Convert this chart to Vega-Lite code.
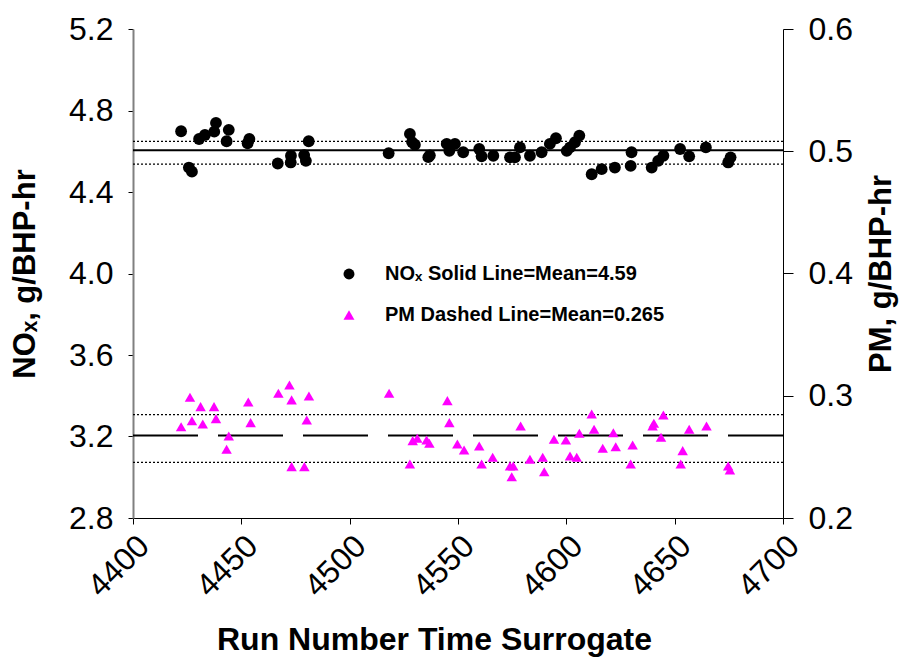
{
  "$schema": "https://vega.github.io/schema/vega-lite/v6.json",
  "width": 650,
  "height": 489,
  "autosize": {"type": "none"},
  "padding": {"left": 133, "top": 29, "right": 122, "bottom": 140},
  "background": "white",
  "config": {
    "view": {"stroke": null},
    "font": "Liberation Sans",
    "axis": {
      "grid": false,
      "labelFont": "Liberation Sans",
      "labelFontSize": 32,
      "labelColor": "black",
      "titleFont": "Liberation Sans",
      "titleFontWeight": "bold",
      "titleFontSize": 31,
      "titleColor": "black",
      "tickColor": "black",
      "domainColor": "black",
      "tickSize": 6,
      "labelPadding": 13
    },
    "legend": {"labelLimit": 0}
  },
  "datasets": {
    "nox": [
      {"run": 4422.2, "v": 4.698}, {"run": 4425.8, "v": 4.52}, {"run": 4427.2, "v": 4.50},
      {"run": 4430.5, "v": 4.66}, {"run": 4433.2, "v": 4.68}, {"run": 4438.3, "v": 4.739},
      {"run": 4437.5, "v": 4.696}, {"run": 4444.2, "v": 4.705}, {"run": 4443.2, "v": 4.649},
      {"run": 4453.7, "v": 4.66}, {"run": 4452.9, "v": 4.639}, {"run": 4466.8, "v": 4.54},
      {"run": 4472.9, "v": 4.578}, {"run": 4472.8, "v": 4.545}, {"run": 4479.8, "v": 4.553},
      {"run": 4479.0, "v": 4.581}, {"run": 4481.1, "v": 4.649}, {"run": 4518.0, "v": 4.59},
      {"run": 4527.8, "v": 4.685}, {"run": 4528.8, "v": 4.645}, {"run": 4530.1, "v": 4.632},
      {"run": 4536.3, "v": 4.571}, {"run": 4537.0, "v": 4.58}, {"run": 4544.8, "v": 4.636},
      {"run": 4546.0, "v": 4.602}, {"run": 4548.6, "v": 4.636}, {"run": 4552.4, "v": 4.595},
      {"run": 4559.8, "v": 4.611}, {"run": 4560.9, "v": 4.575}, {"run": 4566.3, "v": 4.578},
      {"run": 4574.0, "v": 4.57}, {"run": 4576.3, "v": 4.57}, {"run": 4578.6, "v": 4.619},
      {"run": 4583.2, "v": 4.578}, {"run": 4588.6, "v": 4.595}, {"run": 4592.4, "v": 4.636},
      {"run": 4595.2, "v": 4.664}, {"run": 4600.2, "v": 4.602}, {"run": 4601.7, "v": 4.619},
      {"run": 4604.0, "v": 4.644}, {"run": 4606.0, "v": 4.677}, {"run": 4611.7, "v": 4.487},
      {"run": 4616.3, "v": 4.512}, {"run": 4622.4, "v": 4.52}, {"run": 4630.1, "v": 4.595},
      {"run": 4629.7, "v": 4.528}, {"run": 4639.4, "v": 4.52}, {"run": 4642.4, "v": 4.553},
      {"run": 4644.8, "v": 4.578}, {"run": 4652.5, "v": 4.611}, {"run": 4656.7, "v": 4.575},
      {"run": 4664.4, "v": 4.619}, {"run": 4674.7, "v": 4.545}, {"run": 4675.8, "v": 4.57}
    ],
    "pm": [
      {"run": 4422.2, "v": 0.2747}, {"run": 4426.3, "v": 0.2988}, {"run": 4427.2, "v": 0.2796},
      {"run": 4431.2, "v": 0.2911}, {"run": 4432.2, "v": 0.2769}, {"run": 4437.4, "v": 0.2911},
      {"run": 4438.3, "v": 0.2813}, {"run": 4444.2, "v": 0.2671}, {"run": 4443.2, "v": 0.2562},
      {"run": 4453.2, "v": 0.2949}, {"run": 4454.3, "v": 0.278}, {"run": 4467.1, "v": 0.302},
      {"run": 4472.2, "v": 0.3088}, {"run": 4473.2, "v": 0.2966}, {"run": 4473.2, "v": 0.242},
      {"run": 4479.1, "v": 0.242}, {"run": 4481.2, "v": 0.2998}, {"run": 4480.2, "v": 0.2802},
      {"run": 4518.2, "v": 0.302}, {"run": 4527.8, "v": 0.2442}, {"run": 4529.1, "v": 0.2633},
      {"run": 4531.2, "v": 0.2652}, {"run": 4535.5, "v": 0.2638}, {"run": 4536.8, "v": 0.2611},
      {"run": 4545.1, "v": 0.296}, {"run": 4546.0, "v": 0.278}, {"run": 4549.7, "v": 0.2606},
      {"run": 4552.8, "v": 0.2556}, {"run": 4559.8, "v": 0.2589}, {"run": 4560.9, "v": 0.2442},
      {"run": 4566.0, "v": 0.2497}, {"run": 4578.9, "v": 0.2753}, {"run": 4574.0, "v": 0.2426},
      {"run": 4575.5, "v": 0.2426}, {"run": 4574.8, "v": 0.2338}, {"run": 4583.2, "v": 0.248},
      {"run": 4589.1, "v": 0.2497}, {"run": 4589.8, "v": 0.2379}, {"run": 4594.3, "v": 0.2644},
      {"run": 4599.8, "v": 0.2638}, {"run": 4601.7, "v": 0.2507}, {"run": 4604.8, "v": 0.2497},
      {"run": 4606.0, "v": 0.2693}, {"run": 4611.7, "v": 0.2851}, {"run": 4612.8, "v": 0.2726},
      {"run": 4616.8, "v": 0.257}, {"run": 4621.7, "v": 0.2698}, {"run": 4622.8, "v": 0.2583},
      {"run": 4630.6, "v": 0.2597}, {"run": 4629.7, "v": 0.2442}, {"run": 4639.8, "v": 0.2753},
      {"run": 4640.4, "v": 0.2775}, {"run": 4644.8, "v": 0.2843}, {"run": 4643.7, "v": 0.266},
      {"run": 4653.7, "v": 0.2551}, {"run": 4652.8, "v": 0.2442}, {"run": 4656.7, "v": 0.2726},
      {"run": 4664.7, "v": 0.2753}, {"run": 4674.7, "v": 0.2426}, {"run": 4675.5, "v": 0.2393}
    ],
    "noxMean": [{"v": 4.605}],
    "noxBand": [{"v": 4.648}, {"v": 4.537}],
    "pmMean": [{"v": 0.2675}],
    "pmBand": [{"v": 0.2845}, {"v": 0.2455}]
  },
  "layer": [
    {
      "encoding": {
        "y": {
          "field": "v", "type": "quantitative",
          "scale": {"domain": [2.8, 5.2], "nice": false, "zero": false},
          "axis": {"orient": "left", "values": [2.8, 3.2, 3.6, 4.0, 4.4, 4.8, 5.2], "format": ".1f", "title": "NOₓ, g/BHP-hr", "domainColor": "#808080", "domainWidth": 2, "tickSize": 5, "labelPadding": 15, "titlePadding": 27}
        }
      },
      "layer": [
        {
          "data": {"name": "noxBand"},
          "mark": {"type": "rule", "color": "black", "strokeWidth": 1.2, "strokeDash": [2, 2]}
        },
        {
          "data": {"name": "noxMean"},
          "mark": {"type": "rule", "color": "black", "strokeWidth": 2}
        },
        {
          "data": {"name": "nox"},
          "transform": [{"calculate": "'NOₓ Solid Line=Mean=4.59'", "as": "series"}],
          "mark": {"type": "point", "filled": true, "opacity": 1, "size": 140},
          "encoding": {
            "x": {
              "field": "run", "type": "quantitative",
              "scale": {"domain": [4400, 4700], "nice": false, "zero": false},
              "axis": {"values": [4400, 4450, 4500, 4550, 4600, 4650, 4700], "format": "d", "labelAngle": -45, "labelPadding": 6, "title": "Run Number Time Surrogate", "titleFontSize": 32, "titlePadding": 22, "titleX": 301}
            },
            "color": {"field": "series", "type": "nominal", "scale": {"domain": ["NOₓ Solid Line=Mean=4.59", "PM Dashed Line=Mean=0.265"], "range": ["black", "#ff00ff"]}, "legend": {"title": null, "orient": "none", "legendX": 206, "legendY": 235, "labelFontSize": 20, "labelFontWeight": "bold", "labelFont": "Liberation Sans", "labelColor": "black", "symbolSize": 120, "rowPadding": 21, "labelOffset": 26, "padding": 0, "labelLimit": 0}},
            "shape": {"field": "series", "type": "nominal", "scale": {"domain": ["NOₓ Solid Line=Mean=4.59", "PM Dashed Line=Mean=0.265"], "range": ["circle", "triangle-up"]}, "legend": {"title": null, "orient": "none", "legendX": 206, "legendY": 235, "labelFontSize": 20, "labelFontWeight": "bold", "labelFont": "Liberation Sans", "labelColor": "black", "symbolSize": 120, "rowPadding": 21, "labelOffset": 26, "padding": 0, "labelLimit": 0}}
          }
        }
      ]
    },
    {
      "encoding": {
        "y": {
          "field": "v", "type": "quantitative",
          "scale": {"domain": [0.2, 0.6], "nice": false, "zero": false},
          "axis": {"orient": "right", "values": [0.2, 0.3, 0.4, 0.5, 0.6], "format": ".1f", "title": "PM, g/BHP-hr", "titleAngle": 270, "tickSize": 10, "labelPadding": 15, "titlePadding": 45}
        }
      },
      "layer": [
        {
          "data": {"name": "pmBand"},
          "mark": {"type": "rule", "color": "black", "strokeWidth": 1.2, "strokeDash": [2, 2]}
        },
        {
          "data": {"name": "pmMean"},
          "mark": {"type": "rule", "color": "black", "strokeWidth": 2, "strokeDash": [65, 20], "strokeDashOffset": 10}
        },
        {
          "data": {"name": "pm"},
          "transform": [{"calculate": "'PM Dashed Line=Mean=0.265'", "as": "series"}],
          "mark": {"type": "point", "filled": true, "opacity": 1, "size": 110},
          "encoding": {
            "x": {"field": "run", "type": "quantitative", "scale": {"domain": [4400, 4700], "nice": false, "zero": false}},
            "color": {"field": "series", "type": "nominal"},
            "shape": {"field": "series", "type": "nominal"}
          }
        }
      ]
    }
  ],
  "resolve": {"scale": {"y": "independent"}}
}
